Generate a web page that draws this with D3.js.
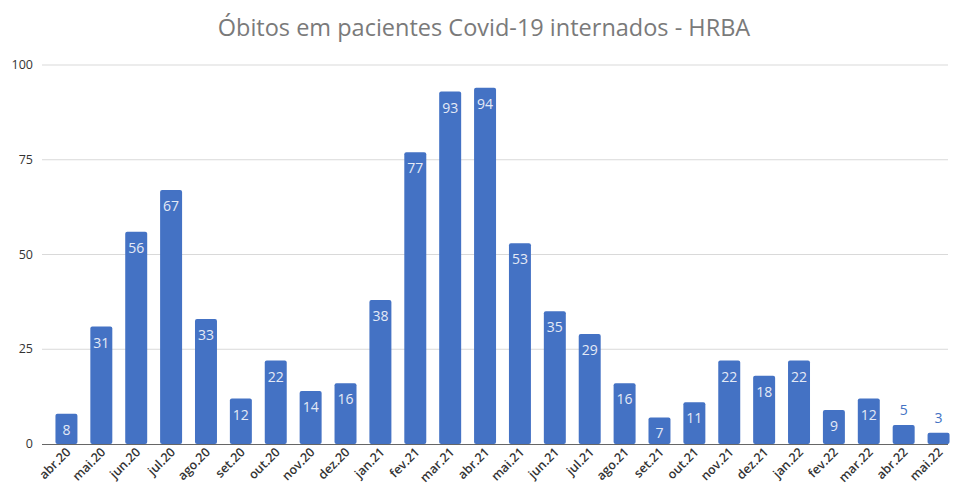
<!DOCTYPE html>
<html>
<head>
<meta charset="utf-8">
<script src="https://cdn.jsdelivr.net/npm/d3@7"></script>
<style>
  body { margin: 0; background: #fff; }
  svg { display: block; font-family: "Open Sans", "Noto Sans", sans-serif; }
</style>
</head>
<body>
<div id="chart"></div>
<script>
const months = ["abr.20","mai.20","jun.20","jul.20","ago.20","set.20","out.20","nov.20","dez.20",
  "jan.21","fev.21","mar.21","abr.21","mai.21","jun.21","jul.21","ago.21","set.21","out.21","nov.21","dez.21",
  "jan.22","fev.22","mar.22","abr.22","mai.22"];
const deaths = [8,31,56,67,33,12,22,14,16,38,77,93,94,53,35,29,16,7,11,22,18,22,9,12,5,3];
const yTicks = [0,25,50,75,100];

const width = 960, height = 494;
const svg = d3.select("#chart").append("svg")
    .attr("width", width)
    .attr("height", height);

// title
svg.append("text")
    .attr("x", 484)
    .attr("y", 36)
    .attr("text-anchor", "middle")
    .attr("fill", "#7a7a7a")
    .style("font-size", "23.5px")
    .text("Óbitos em pacientes Covid-19 internados - HRBA");

//scales
const y = d3.scaleLinear().domain([0, 100]).range([444, 65]);
const x = d3.scaleBand().domain(months).range([49, 956]).paddingInner(0.37).paddingOuter(0.185);

// grid
svg.selectAll("line.grid")
    .data(yTicks.filter(d => d > 0))
    .enter().append("line")
    .attr("x1", 42).attr("x2", 948)
    .attr("y1", d => y(d)).attr("y2", d => y(d))
    .attr("stroke", "#d9d9d9")
    .attr("stroke-width", 1);

svg.selectAll("text.ytick")
    .data(yTicks)
    .enter().append("text")
    .attr("x", 33)
    .attr("y", d => y(d) + 4)
    .attr("text-anchor", "end")
    .attr("fill", "#333")
    .style("font-size", "12.5px")
    .text(d => d);

// bars
svg.selectAll("rect.bar")
    .data(deaths)
    .enter().append("rect")
    .attr("x", (d, i) => x(months[i]))
    .attr("y", d => y(d))
    .attr("width", x.bandwidth())
    .attr("height", d => y(0) - y(d))
    .attr("rx", 2)
    .attr("fill", "#4472c4");

// value labels
svg.selectAll("text.val")
    .data(deaths)
    .enter().append("text")
    .attr("x", (d, i) => x(months[i]) + x.bandwidth() / 2)
    .attr("y", d => d >= 7 ? y(d) + 21 : y(d) - 10)
    .attr("text-anchor", "middle")
    .attr("fill", d => d >= 7 ? "#e4eaf6" : "#4472c4")
    .style("font-size", "14px")
    .text(d => d);

// baseline
svg.append("line")
    .attr("x1", 42).attr("x2", 948)
    .attr("y1", y(0) + 0.5).attr("y2", y(0) + 0.5)
    .attr("stroke", "#666")
    .attr("stroke-width", 1.2);

// x labels
svg.selectAll("text.xlab")
    .data(months)
    .enter().append("text")
    .attr("transform", d => `translate(${x(d) + x.bandwidth() / 2 + 5},${453}) rotate(-45)`)
    .attr("text-anchor", "end")
    .attr("fill", "#333")
    .style("font-size", "12.5px")
    .style("font-weight", "600")
    .text(d => d);
</script>
</body>
</html>
